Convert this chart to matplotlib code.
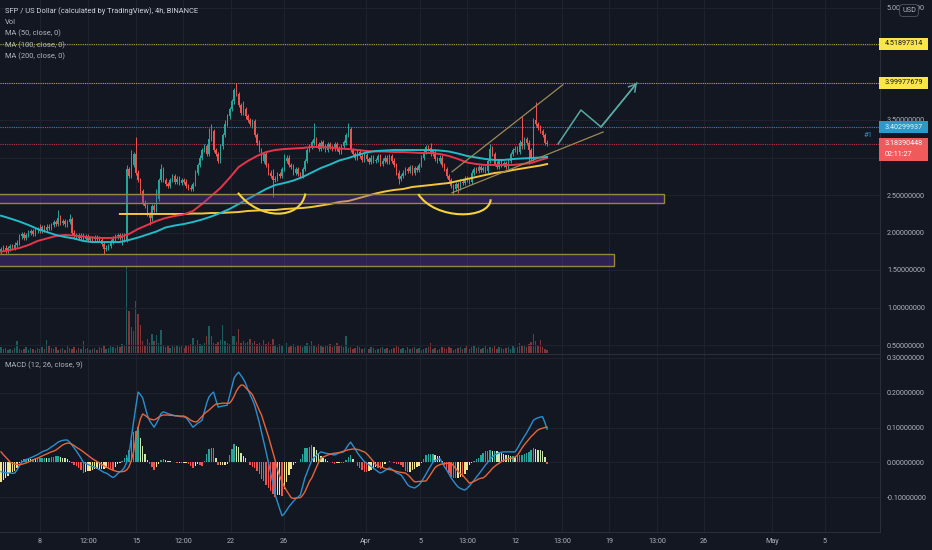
import matplotlib.pyplot as plt
import matplotlib.patches as mpatches
import matplotlib.transforms as mtransforms
from matplotlib.path import Path
from matplotlib.ticker import FormatStrFormatter
import numpy as np

plt.rcParams['font.family'] = ['Roboto', 'DejaVu Sans']

# ---- 4h candles, SFP/USD, closes in cents ----
close_cents = [
    178, 180, 176, 179, 182, 180, 184, 186,
    195, 198, 193, 197, 200, 202, 198, 203, 205, 202, 207, 204, 208, 206,
    210, 214, 212, 220, 213, 215, 211, 214, 218,
    200, 195, 197, 193, 196, 192, 195, 190, 193, 191, 194, 192, 190,
    185, 178, 180, 182, 188, 192, 195,
    197, 193, 196, 190,
    285,
    275, 290, 305, 280, 270,
    255, 240, 235, 225,
    220, 235, 230,
    245, 270, 285,
    270, 265, 262, 270, 275, 268, 272, 266, 270, 268,
    262, 260, 258, 265,
    280, 290, 300, 310, 315, 305,
    325, 335, 310, 305, 295,
    315, 330, 345, 355, 365,
    375, 390, 385, 370,
    360, 365, 355, 350, 345, 348,
    330, 320, 310, 295, 305, 290,
    280, 275, 270, 272,
    278, 275, 285, 295, 300,
    290, 288, 280, 285, 278, 275,
    285, 295, 310, 315, 320, 325,
    318, 312, 320, 315, 310, 318, 314, 312,
    318, 312, 308, 315, 320, 330,
    338,
    310, 305, 300, 308, 302, 297, 303,
    298, 294, 300, 295, 297, 302, 292, 296, 300, 294, 302,
    296, 290, 280, 272, 275,
    280, 285, 282, 287, 280, 286, 283, 290,
    300, 308, 314, 312, 305, 308,
    298, 295, 300, 290, 285, 275, 270,
    262, 258, 265, 260,
    268, 266, 272, 270, 268,
    280, 285, 282, 287, 284, 286, 282,
    295, 312, 305,
    292, 288, 295, 290, 293, 288, 295,
    305, 310, 312, 308,
    320, 315, 325, 320,
    310, 298,
    350, 345, 340,
    335, 330, 320, 318,
]
first_open = 1.75
high_marks = {7: 190, 17: 212, 25: 230, 30: 225, 55: 290, 57: 310, 59: 327, 68: 258,
              70: 292, 91: 340, 92: 345, 98: 350, 103: 399, 106: 375, 119: 285,
              124: 305, 137: 346, 152: 346, 172: 300, 188: 320, 214: 318, 228: 355,
              234: 374}
low_marks = {45: 172, 53: 183, 65: 210, 66: 215, 110: 340, 119: 247, 174: 265,
             198: 250, 200: 253, 231: 292}

volume_k = [
    6, 4, 5, 3, 4, 3, 5, 12, 4, 3,
    4, 6, 3, 5, 4, 3, 5, 4, 6, 4,
    13, 8, 5, 4, 6, 3, 4, 5, 3, 7,
    5, 4, 6, 3, 5, 4, 12, 4, 5, 3,
    4, 5, 3, 6, 5, 7, 4, 5, 8, 6,
    5, 7, 6, 9, 8,
    87,
    42, 26, 22, 52, 39,
    28, 12, 8, 14, 10, 19, 12, 18, 10, 23,
    7, 6, 8, 5, 7, 6, 8, 6, 7, 5,
    8, 7, 9, 15, 7, 13, 9, 8, 10, 17,
    27, 17, 10, 9, 11, 13, 28, 12, 10, 9,
    17, 17, 11, 24, 10, 12, 10, 11, 14, 10,
    12, 9, 10, 8, 13, 9, 11, 9, 14, 8,
    6, 9, 7, 8, 10, 6, 7, 9, 6, 8,
    7, 6, 8, 10, 7, 12, 8, 6, 9, 7,
    6, 8, 7, 9, 6, 8, 10, 7, 8, 6,
    17, 5, 6, 4, 5, 8, 6, 4, 5, 3,
    4, 6, 5, 3, 4, 5, 6, 4, 5, 3,
    4, 5, 8, 6, 4, 5, 3, 6, 4, 5,
    6, 4, 5, 3, 4, 5, 6, 10, 4, 5,
    3, 4, 6, 5, 4, 6, 5, 3, 4, 5,
    6, 4, 5, 7, 4, 6, 8, 5, 6, 4,
    5, 7, 4, 6, 5, 8, 4, 6, 5, 4,
    5, 6, 4, 7, 5, 6, 10, 7, 8, 6,
    9, 11, 19, 12, 8, 13, 6, 4, 3,
]

ma_idx = list(range(0, 240, 4)) + [239]
ma50 = [1.744, 1.767, 1.793, 1.833, 1.887, 1.92, 1.953, 1.967, 1.96, 1.947,
        1.933, 1.927, 1.927, 1.94, 1.98, 2.047, 2.10, 2.153, 2.193, 2.22,
        2.24, 2.287, 2.38, 2.487, 2.593, 2.727, 2.873, 2.953, 3.02, 3.073,
        3.10, 3.113, 3.12, 3.127, 3.14, 3.14, 3.133, 3.12, 3.113, 3.10,
        3.087, 3.08, 3.08, 3.073, 3.073, 3.067, 3.06, 3.06, 3.047, 3.02,
        2.98, 2.933, 2.913, 2.90, 2.90, 2.90, 2.90, 2.913, 2.927, 2.967,
        2.993]
ma100 = [2.224, 2.187, 2.147, 2.10, 2.047, 2.007, 1.967, 1.94, 1.92, 1.887,
         1.873, 1.873, 1.873, 1.873, 1.90, 1.933, 1.973, 2.013, 2.067, 2.093,
         2.113, 2.14, 2.173, 2.213, 2.26, 2.313, 2.38, 2.447, 2.513, 2.58,
         2.633, 2.66, 2.693, 2.74, 2.80, 2.86, 2.907, 2.96, 2.993, 3.033,
         3.067, 3.087, 3.093, 3.10, 3.10, 3.10, 3.10, 3.10, 3.093, 3.08,
         3.053, 3.02, 3.00, 2.98, 2.967, 2.967, 2.98, 2.987, 2.993, 3.00,
         3.007]
ma200 = [np.nan] * 13 + [
    2.247, 2.247, 2.247, 2.247, 2.247, 2.247, 2.247, 2.247, 2.253, 2.253,
    2.26, 2.26, 2.267, 2.273, 2.287, 2.293, 2.30, 2.30, 2.313, 2.32,
    2.327, 2.34, 2.36, 2.38, 2.407, 2.42, 2.453, 2.487, 2.52, 2.547,
    2.567, 2.58, 2.607, 2.62, 2.633, 2.647, 2.66, 2.687, 2.713, 2.74,
    2.767, 2.793, 2.807, 2.833, 2.853, 2.873, 2.893, 2.913]

# ---- MACD (12, 26, close, 9), thousandths ----
macd_milli = [
    -27, -29, -30, -31, -31, -32, -31, -22, -10, 0,
    4, 8, 10, 13, 16, 19, 22, 26, 30, 33,
    35, 39, 44, 48, 53, 58, 61, 63, 64, 64,
    58, 50, 41, 32, 22, 12, 0, -3, -6, -9,
    -12, -14, -17, -21, -25, -29, -31, -35, -40, -44,
    -40, -33, -28, -23, -15, 0, 21, 70, 116, 160,
    202, 195, 185, 160, 136, 120, 110, 101, 112, 125,
    140, 145, 143, 140, 138, 136, 134, 133, 132, 131,
    131, 128, 120, 110, 101, 106, 112, 116, 121, 145,
    170, 188, 196, 202, 180, 159, 160, 162, 163, 164,
    190, 215, 242, 252, 259, 250, 240, 228, 210, 195,
    180, 164, 140, 115, 87, 60, 30, 0, -30, -62,
    -94, -115, -135, -154, -148, -138, -128, -120, -112, -105,
    -100, -94, -70, -45, -28, -11, 6, 14, 20, 25,
    30, 28, 26, 25, 24, 22, 21, 24, 27, 28,
    30, 40, 50, 58, 48, 38, 27, 18, 10, 2,
    -3, -7, -12, -17, -22, -27, -31, -28, -24, -20,
    -16, -20, -25, -30, -33, -36, -45, -55, -65, -70,
    -72, -74, -70, -65, -56, -45, -34, -22, -11, 0,
    5, 8, 11, 0, -12, -22, -33, -45, -54, -63,
    -71, -75, -78, -80, -75, -68, -60, -52, -43, -35,
    -26, -17, -8, 0, 8, 15, 21, 24, 27, 29,
    30, 30, 30, 30, 30, 30, 40, 52, 63, 74,
    84, 96, 108, 121, 125, 128, 130, 131, 115, 95,
]
signal_milli = [
    30, 22, 15, 8, 0, -3, -5, -6, -7, -6,
    -4, -2, 1, 4, 7, 10, 12, 15, 18, 21,
    24, 27, 30, 32, 35, 40, 45, 50, 53, 55,
    55, 52, 48, 43, 39, 35, 30, 25, 20, 15,
    10, 6, 2, -2, -6, -10, -14, -17, -20, -23,
    -25, -27, -27, -27, -26, -22, -13, 5, 30, 70,
    100, 125, 139, 135, 130, 125, 123, 122, 125, 130,
    134, 136, 136, 136, 135, 135, 134, 134, 133, 133,
    133, 130, 126, 121, 118, 116, 118, 125, 132, 140,
    145, 150, 156, 162, 167, 168, 169, 170, 170, 170,
    170, 178, 190, 205, 215, 222, 222, 215, 208, 202,
    195, 180, 165, 150, 136, 115, 95, 75, 52, 30,
    5, -20, -40, -56, -70, -82, -92, -102, -104, -103,
    -102, -102, -95, -85, -70, -55, -45, -30, -15, 0,
    12, 15, 18, 21, 23, 25, 26, 27, 28, 30,
    32, 34, 36, 37, 38, 38, 37, 35, 32, 30,
    25, 18, 10, 2, -7, -10, -13, -15, -18, -20,
    -21, -22, -24, -26, -28, -29, -30, -31, -36, -42,
    -50, -56, -56, -55, -55, -54, -54, -45, -35, -25,
    -15, -10, -7, -5, -4, -3, -2, -2, -10, -18,
    -26, -33, -36, -45, -52, -60, -58, -55, -52, -48,
    -46, -45, -40, -33, -26, -18, -12, -7, -3, 2,
    5, 8, 10, 12, 12, 15, 20, 30, 41, 50,
    58, 66, 74, 80, 87, 93, 96, 98, 100, 101,
]

# ---- time axis ----
tick_pos = [17.1, 38.1, 59.1, 79.6, 100.7, 123.9, 159.7, 183.4, 203.9, 225.0,
            245.5, 266.1, 287.1, 307.7, 337.4, 360.6]
tick_lab = ['8', '12:00', '15', '12:00', '22', '26', 'Apr', '5', '13:00', '12',
            '13:00', '19', '13:00', '26', 'May', '5']
price_ticks = [0.5, 1.0, 1.5, 2.0, 2.5, 3.0, 3.5, 4.0, 4.5, 5.0]
# labels hidden behind the price tags on the scale stay empty
price_tick_lab = ['0.50000000', '1.00000000', '1.50000000', '2.00000000', '2.50000000',
                  '', '3.50000000', '', '', '5.00000000']
macd_ticks = [-0.1, 0.0, 0.1, 0.2, 0.3]

# ---- drawings and levels ----
yellow_levels = [4.51897314, 3.99977679]
blue_level = 3.40299937
last_price = 3.18390448
countdown = '02:11:27'
zones = [(-5, 290.2, 2.40, 2.52), (-5, 268.3, 1.56, 1.71)]
channel_upper = ([197.4, 245.9], [2.81, 3.97])
channel_lower = ([197.4, 263.5], [2.53, 3.34])
proj_x = [243.8, 253.8, 262.6, 278.3]
proj_y = [3.18, 3.633, 3.407, 3.993]
bowls = [[(103.7, 2.53), (113, 2.16), (131, 2.16), (133.2, 2.52)],
         [(182.6, 2.513), (190, 2.16), (214, 2.17), (214.3, 2.443)]]

BG = '#131722'
GRID = '#1e222d'
LINE = '#2a2e39'
TXT = '#b2b5be'
GREEN = '#26a69a'
RED = '#ef5350'

fig = plt.figure(figsize=(9.32, 5.5), dpi=100, facecolor=BG)
pos_price = [0, 196 / 550, 880 / 932, 354 / 550]
pos_macd = [0, 18 / 550, 880 / 932, 177 / 550]
ax_vol = fig.add_axes(pos_price, facecolor=BG)
ax = fig.add_axes(pos_price)
ax.set_facecolor('none')
am = fig.add_axes(pos_macd, facecolor=BG)

c = np.array(close_cents) / 100
o = np.r_[first_open, c[:-1]]
idx = np.arange(len(c))
h = np.maximum(o, c) + 0.03
l = np.minimum(o, c) - 0.03
for k, v in high_marks.items():
    h[k] = v / 100
for k, v in low_marks.items():
    l[k] = v / 100
up = c >= o
col = np.where(up, GREEN, RED)

# volume overlay
ax_vol.bar(idx, volume_k, width=0.62, color=col, alpha=0.5, lw=0)
ax_vol.set_ylim(-1, 353)
ax_vol.set_xlim(-0.45, 384.7)
ax_vol.axis('off')

# candles
ax.vlines(idx, l, h, colors=col, lw=0.7, zorder=3)
ax.bar(idx, np.maximum(np.abs(c - o), 0.006), bottom=np.minimum(o, c), width=0.62,
       color=col, lw=0, zorder=4)

ax.plot(ma_idx, ma200, color='#f5c53b', lw=1.4, zorder=5)
ax.plot(ma_idx, ma50, color='#e8344d', lw=1.4, zorder=5)
ax.plot(ma_idx, ma100, color='#22bcc8', lw=1.4, zorder=6)

# zones
for x0, x1, y0, y1 in zones:
    ax.add_patch(mpatches.Rectangle((x0, y0), x1 - x0, y1 - y0, fc=(0.40, 0.23, 0.72, 0.32),
                                    ec='#968640', lw=1.0, zorder=7))

ax.plot(*channel_upper, color='#9c8a56', lw=0.9, zorder=7)
ax.plot(*channel_lower, color='#9c8a56', lw=0.9, zorder=7)
ax.plot(proj_x, proj_y, color='#58a8a3', lw=1.1, zorder=7)
ax.annotate('', xy=(proj_x[-1], proj_y[-1]), xytext=(proj_x[-2], proj_y[-2]),
            arrowprops=dict(arrowstyle='->,head_length=0.5,head_width=0.3', color='#58a8a3',
                            lw=1.1, shrinkA=0, shrinkB=0), zorder=7)
for pts in bowls:
    p = Path(pts, [Path.MOVETO, Path.CURVE4, Path.CURVE4, Path.CURVE4])
    ax.add_patch(mpatches.PathPatch(p, fc='none', ec='#f5d33c', lw=1.5, zorder=8))

for lv in yellow_levels:
    ax.axhline(lv, color='#b0a040', lw=0.8, ls=(0, (1, 1)), zorder=2)
ax.axhline(blue_level, color='#1f8fb5', lw=0.8, ls=(0, (1, 1)), zorder=2)
ax.axhline(last_price, color='#b8364a', lw=0.8, ls=(0, (1, 1)), zorder=2)

ax.set_xlim(-0.45, 384.7)
ax.set_ylim(0.38, 5.1)
ax.set_yticks(price_ticks)
ax.set_yticklabels(price_tick_lab)
ax.set_xticks(tick_pos)

# MACD pane
macd = np.array(macd_milli) / 1000
sig = np.array(signal_milli) / 1000
hist = macd - sig
prev = np.r_[hist[0], hist[:-1]]
hcol = []
for hv, pv in zip(hist, prev):
    if hv >= 0:
        hcol.append('#26a69a' if hv >= pv else '#cde6b0')
    else:
        hcol.append('#ef5350' if hv < pv else '#f3e48e')
am.bar(idx, hist, width=0.62, color=hcol, lw=0, zorder=3)
am.plot(idx, macd, color='#2a8fd0', lw=1.0, zorder=4)
am.plot(idx, sig, color='#e8643a', lw=1.0, zorder=4)
am.set_xlim(-0.45, 384.7)
am.set_ylim(-0.2006, 0.3086)
am.set_yticks(macd_ticks)
am.set_xticks(tick_pos)
am.set_xticklabels(tick_lab)
am.yaxis.set_major_formatter(FormatStrFormatter('%.8f'))

for a in (ax, am):
    a.yaxis.tick_right()
    a.grid(True, color=GRID, lw=0.8, zorder=0)
    a.set_axisbelow(True)
    for s in a.spines.values():
        s.set_visible(False)
    a.spines['right'].set_visible(True)
    a.spines['right'].set_color(LINE)
    a.spines['bottom'].set_visible(True)
    a.spines['bottom'].set_color(LINE)
    a.tick_params(axis='y', length=0, pad=5, labelsize=5.2, labelcolor=TXT)
    a.tick_params(axis='x', length=0, pad=4, labelsize=5.2, labelcolor=TXT)
ax.tick_params(axis='x', labelbottom=False)

# price tags on the right scale
blend = mtransforms.blended_transform_factory(ax.transAxes, ax.transData)


def price_tag(price, text, fc, tc, lines=1):
    top = price + 0.08
    hgt = 0.16 if lines == 1 else 0.31
    ax.add_patch(mpatches.Rectangle((0.999, top - hgt), 0.055, hgt, transform=blend,
                                    fc=fc, ec='none', clip_on=False, zorder=20))
    ax.text(1.0055, price, text, transform=blend, fontsize=5.2, color=tc,
            ha='left', va='center', zorder=21, clip_on=False)


for lv in yellow_levels:
    price_tag(lv, f'{lv:.8f}', '#f9e64b', '#131722')
price_tag(blue_level, f'{blue_level:.8f}', '#2a9bc9', '#dff3fa')
price_tag(last_price, f'{last_price:.8f}', '#f05a5a', '#ffffff', lines=2)
ax.text(1.0055, last_price - 0.15, countdown, transform=blend, fontsize=5.2,
        color='#ffffff', ha='left', va='center', zorder=21, clip_on=False)
ax.text(0.986, 3.30, '#1', transform=blend, fontsize=5.5, color='#2a8fc0',
        ha='center', va='center')

fig.text(909 / 932, 1 - 10.5 / 550, 'USD', fontsize=5.2, color=TXT, ha='center', va='center',
         bbox=dict(boxstyle='round,pad=0.35,rounding_size=0.5', fc=BG, ec='#4a4e5a', lw=0.7))

# legend
legend = ['SFP / US Dollar (calculated by TradingView), 4h, BINANCE', 'Vol',
          'MA (50, close, 0)', 'MA (100, close, 0)', 'MA (200, close, 0)']
for k, t in enumerate(legend):
    fig.text(5 / 932, 1 - (11 + 11.4 * k) / 550, t, fontsize=5.4,
             color='#d1d4dc' if k == 0 else TXT, ha='left', va='center')
fig.text(5 / 932, 1 - 365 / 550, 'MACD (12, 26, close, 9)', fontsize=5.4, color=TXT,
         ha='left', va='center')

plt.savefig('out.png', dpi=100, facecolor=BG)
